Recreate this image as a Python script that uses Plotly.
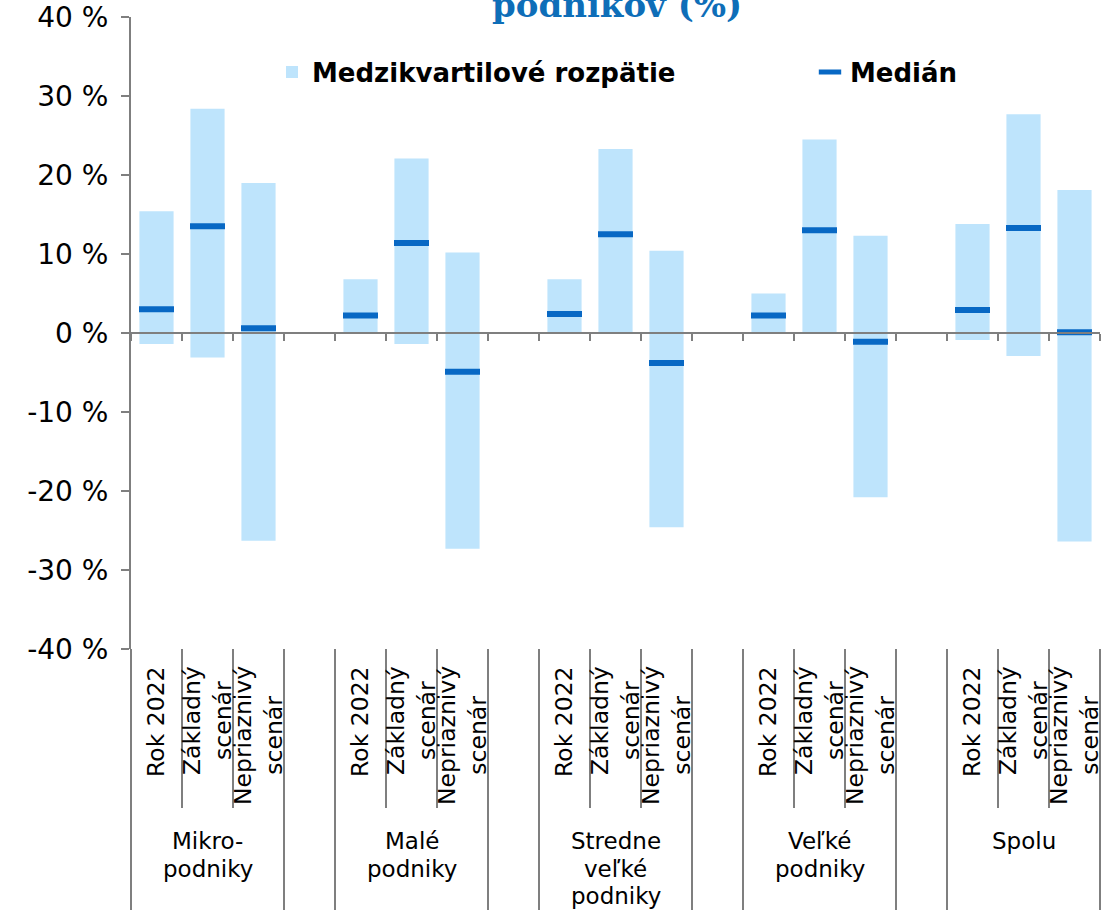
import plotly.graph_objects as go

# ---------------- data ----------------
groups = ["Mikro-<br>podniky", "Malé<br>podniky", "Stredne<br>veľké<br>podniky", "Veľké<br>podniky", "Spolu"]
scenarios = ["Rok 2022", "Základný<br>scenár", "Nepriaznivý<br>scenár"]

# interquartile range (lower quartile, upper quartile) and median, in %
rok2022_q1 = [-1.4, 0.0, 0.0, 0.0, -0.9]
rok2022_q3 = [15.4, 6.8, 6.8, 5.0, 13.8]
rok2022_med = [3.0, 2.2, 2.4, 2.2, 2.9]

zakladny_q1 = [-3.1, -1.4, 0.0, 0.0, -2.9]
zakladny_q3 = [28.4, 22.1, 23.3, 24.5, 27.7]
zakladny_med = [13.5, 11.4, 12.5, 13.0, 13.3]

nepriaznivy_q1 = [-26.3, -27.3, -24.6, -20.8, -26.4]
nepriaznivy_q3 = [19.0, 10.2, 10.4, 12.3, 18.1]
nepriaznivy_med = [0.6, -4.9, -3.8, -1.1, 0.1]

y_tick_values = [-40, -30, -20, -10, 0, 10, 20, 30, 40]
y_tick_labels = ["-40 %", "-30 %", "-20 %", "-10 %", "0 %", "10 %", "20 %", "30 %", "40 %"]

legend_range = "Medzikvartilové rozpätie"
legend_median = "Medián"
title_text = "podnikov (%)"

# ---------------- assemble ----------------
SLOTS_PER_GROUP = 4  # 3 scenarios + 1 empty gap
n_slots = len(groups) * SLOTS_PER_GROUP - 1

q1_by_scen = [rok2022_q1, zakladny_q1, nepriaznivy_q1]
q3_by_scen = [rok2022_q3, zakladny_q3, nepriaznivy_q3]
med_by_scen = [rok2022_med, zakladny_med, nepriaznivy_med]

xs, bases, heights, meds = [], [], [], []
for g in range(len(groups)):
    for j in range(len(scenarios)):
        xs.append(g * SLOTS_PER_GROUP + j)
        lo = q1_by_scen[j][g]
        hi = q3_by_scen[j][g]
        bases.append(lo)
        heights.append(hi - lo)
        meds.append(med_by_scen[j][g])

W, H = 1110, 910
M_L, M_R, M_T, M_B = 131, 10, 17, 261
PH = H - M_T - M_B
PW = W - M_L - M_R


def py(p):
    """pixel row -> paper y"""
    return (H - M_B - p) / PH


def px(p):
    """pixel column -> paper x"""
    return (p - M_L) / PW


BAR_COLOR = "#BEE4FC"
MED_COLOR = "#0868C4"
AX_COLOR = "#7F7F7F"
FONT = "DejaVu Sans"

fig = go.Figure()
fig.add_trace(go.Bar(
    x=xs, y=heights, base=bases, width=0.67,
    marker=dict(color=BAR_COLOR, line=dict(width=0)),
    name=legend_range, hoverinfo="skip", legend="legend",
))
fig.add_trace(go.Scatter(
    x=xs, y=meds, mode="markers", name=legend_median,
    marker=dict(symbol="line-ew", size=25, color=MED_COLOR,
                line=dict(width=6, color=MED_COLOR)),
    hoverinfo="skip", legend="legend2",
))

shapes = []
annotations = []


def vline(b, p0, p1):
    line = dict(color=AX_COLOR, width=2)
    if b <= -0.5:
        return dict(type="line", xref="x domain", yref="paper", x0=0, x1=0,
                    y0=py(p0), y1=py(p1), line=line)
    if b >= n_slots - 0.5:
        return dict(type="line", xref="x domain", yref="paper", x0=1, x1=1,
                    y0=py(p0), y1=py(p1), line=line)
    return dict(type="line", xref="x", yref="paper", x0=b, x1=b,
                y0=py(p0), y1=py(p1), line=line)


GROUP_LINE_PITCH = 27.5
for g in range(len(groups)):
    start = g * SLOTS_PER_GROUP
    shapes.append(vline(start - 0.5, 649, 912))
    shapes.append(vline(start + len(scenarios) - 0.5, 649, 912))
    for j in range(1, len(scenarios)):
        shapes.append(vline(start + j - 0.5, 649, 808))
    for j, s in enumerate(scenarios):
        annotations.append(dict(
            x=start + j, xref="x", y=py(664), yref="paper",
            text=s, textangle=-90, showarrow=False,
            xanchor="center", yanchor="top",
            font=dict(family=FONT, size=23.5, color="black"),
        ))
    for k, line_text in enumerate(groups[g].split("<br>")):
        annotations.append(dict(
            x=start + (len(scenarios) - 1) / 2, xref="x",
            y=py(826 + k * GROUP_LINE_PITCH), yref="paper",
            text=line_text, showarrow=False, xanchor="center", yanchor="top",
            font=dict(family=FONT, size=23, color="black"),
        ))

# title (cut at the top of the picture)
annotations.append(dict(
    x=px(617), xref="paper", y=py(27), yref="paper",
    text="<b>" + title_text + "</b>", showarrow=False,
    xanchor="center", yanchor="bottom",
    font=dict(family="DejaVu Serif", size=34, color="#0E6EB8"),
))

legend_common = dict(
    orientation="h", xanchor="left", yanchor="middle", y=py(72),
    font=dict(family=FONT, size=26, color="black", weight="bold"),
    bgcolor="rgba(0,0,0,0)", borderwidth=0,
    itemclick=False, itemdoubleclick=False,
)

fig.update_layout(
    width=W, height=H,
    margin=dict(l=M_L, r=M_R, t=M_T, b=M_B, pad=0, autoexpand=False),
    paper_bgcolor="white", plot_bgcolor="white",
    barmode="overlay",
    showlegend=True,
    legend=dict(x=px(272), **legend_common),
    legend2=dict(x=px(810), **legend_common),
    xaxis=dict(
        range=[-0.5, n_slots - 0.5],
        anchor="free", position=0.5, automargin=False,
        showline=True, linecolor=AX_COLOR, linewidth=2,
        ticks="outside", ticklen=7, tickwidth=2, tickcolor=AX_COLOR,
        tickvals=[b - 0.5 for b in range(n_slots + 1)],
        showticklabels=False, showgrid=False, zeroline=False,
        fixedrange=True,
    ),
    yaxis=dict(
        range=[-40, 40], automargin=False,
        tickvals=y_tick_values, ticktext=y_tick_labels,
        showline=True, linecolor=AX_COLOR, linewidth=2,
        ticks="outside", ticklen=8, tickwidth=2, tickcolor=AX_COLOR,
        ticklabelstandoff=7,
        tickfont=dict(family=FONT, size=28, color="black"),
        showgrid=False, zeroline=False, fixedrange=True,
    ),
    shapes=shapes,
    annotations=annotations,
)

fig.write_html("out.html")
